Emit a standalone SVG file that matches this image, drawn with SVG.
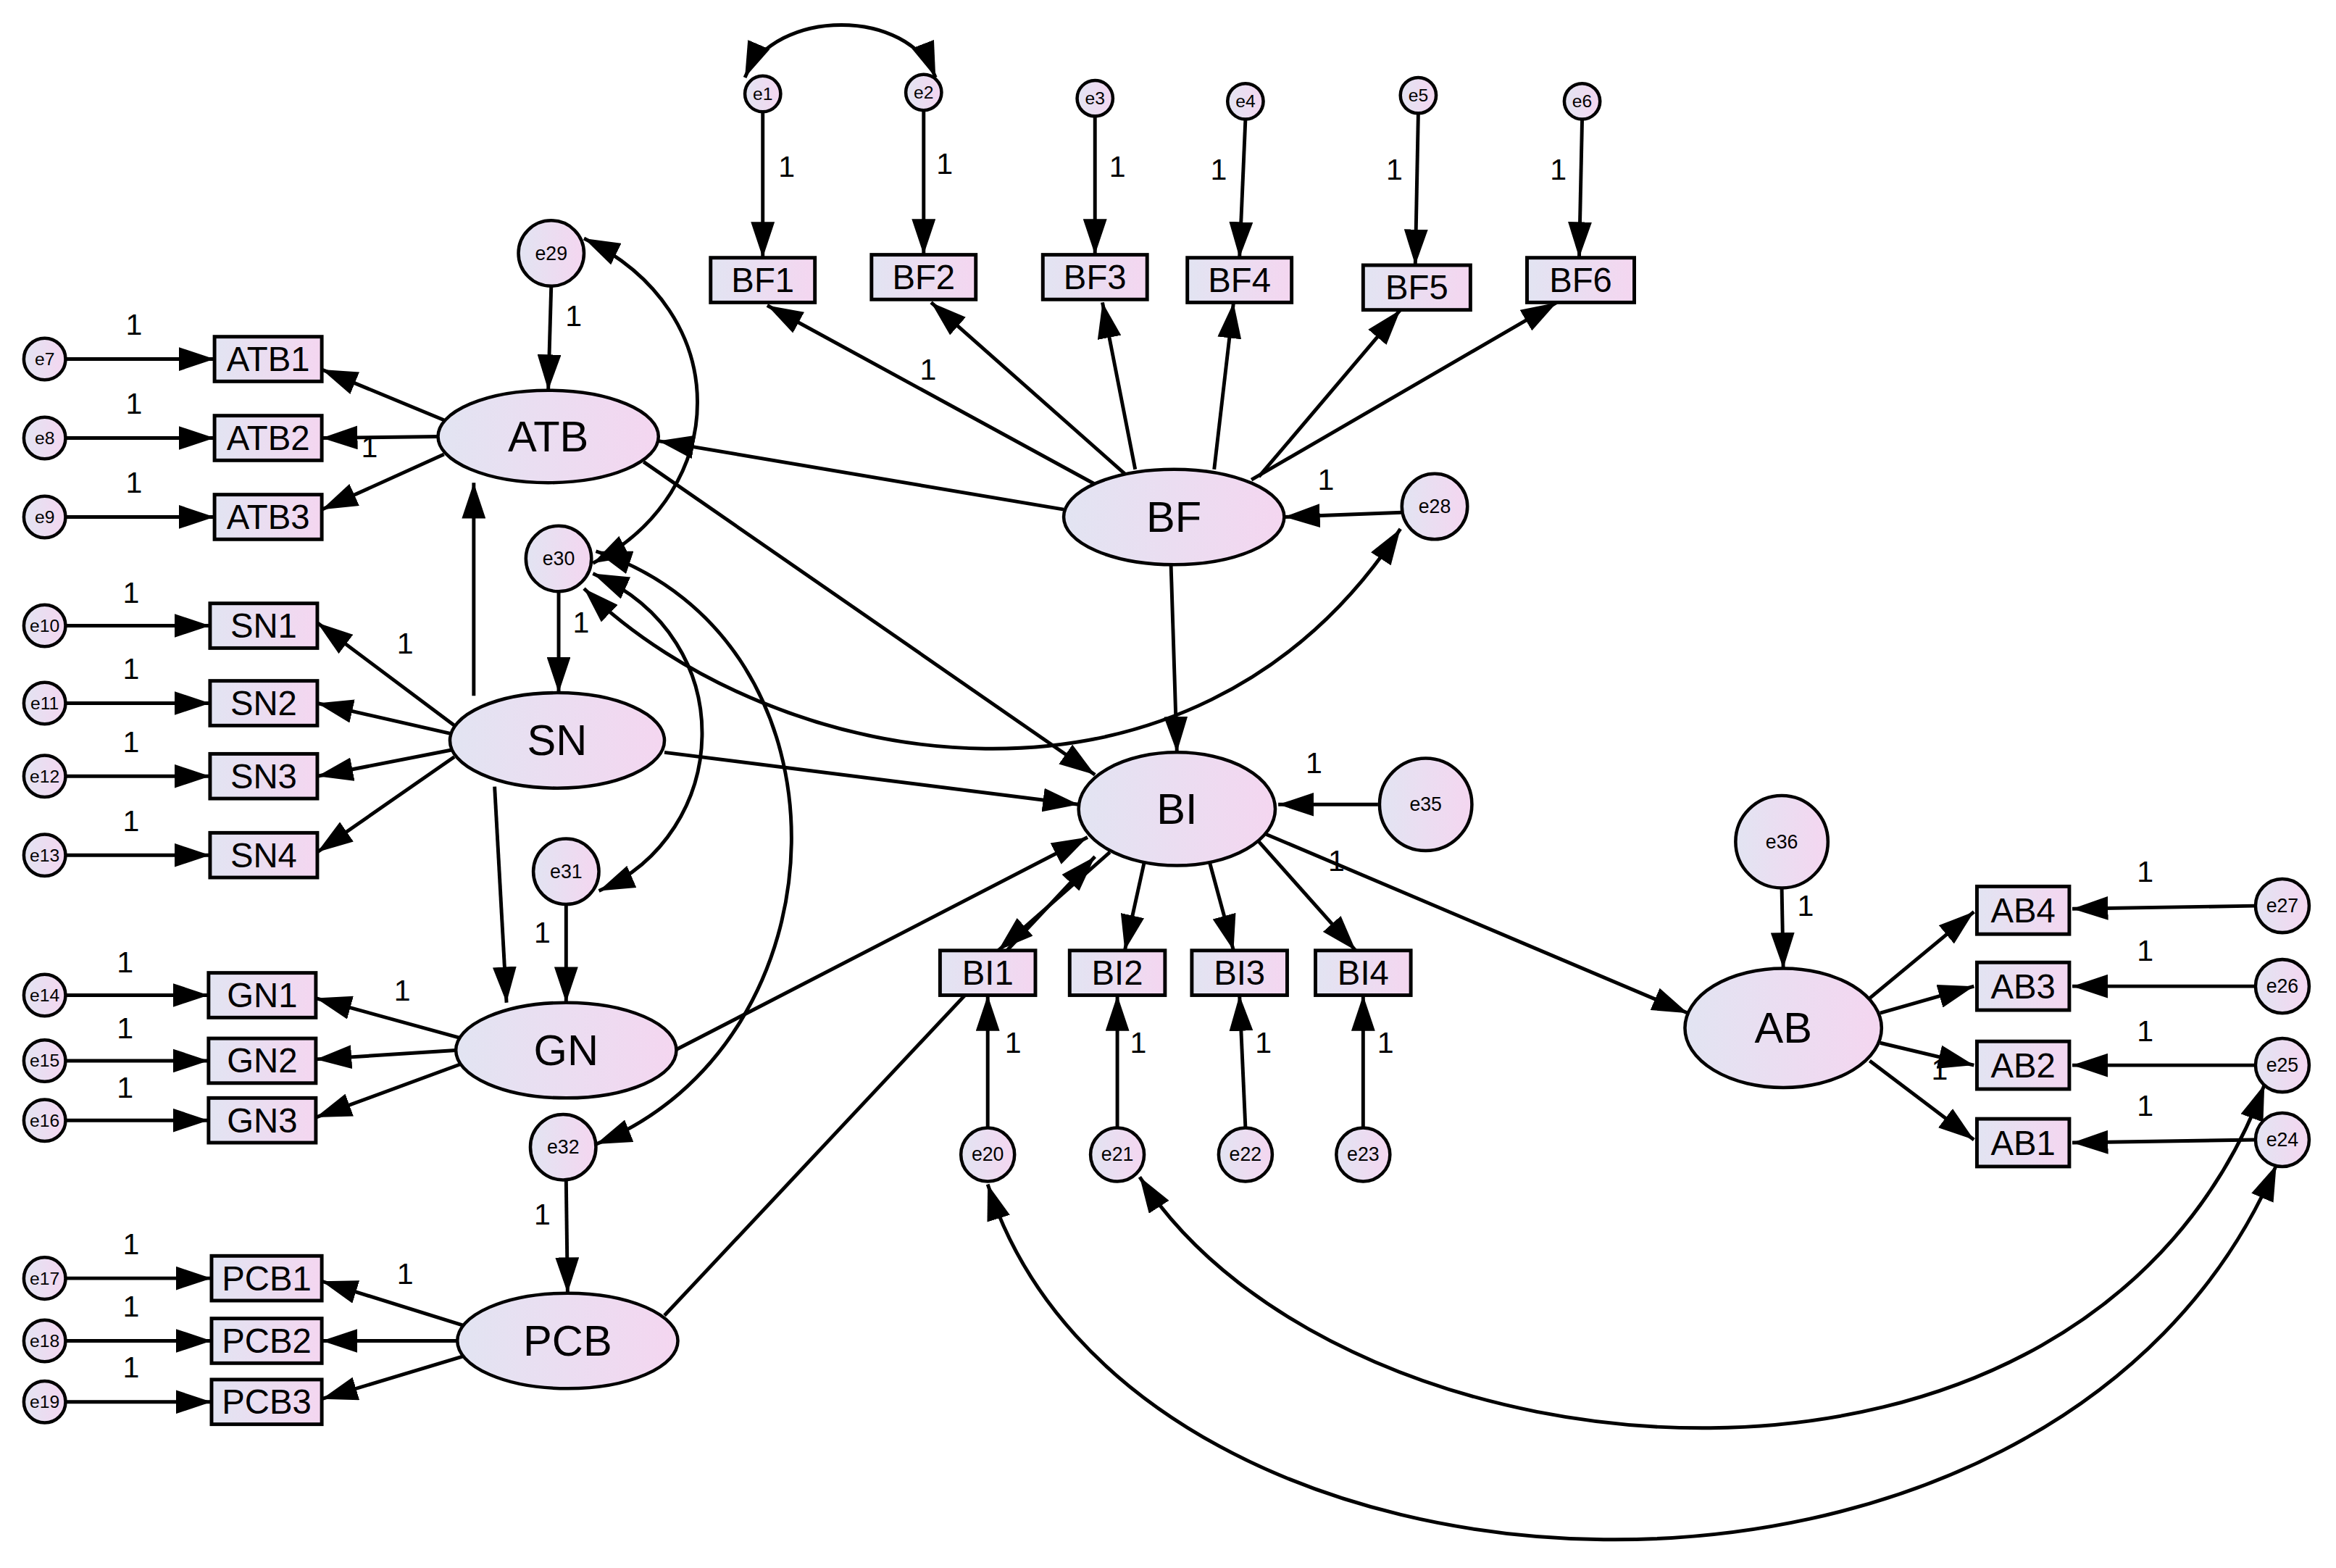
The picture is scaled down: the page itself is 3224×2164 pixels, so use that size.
<svg xmlns="http://www.w3.org/2000/svg" width="3224" height="2164" viewBox="0 0 3224 2164">
<style>
.c{stroke:#000;stroke-width:2.2;fill:url(#g)}
.b{stroke:#000;stroke-width:2.4;fill:url(#g)}
.t{font-family:"Liberation Sans",Arial,sans-serif;text-anchor:middle;dominant-baseline:central;fill:#000}
.s{font-size:12px}.m{font-size:13px}.bx{font-size:23px}.lt{font-size:29px}.n{font-size:20px}
#connectors line{stroke:#000;stroke-width:2.4;marker-end:url(#ah)}
.d{stroke:#000;stroke-width:2.4;fill:none;marker-end:url(#ah);marker-start:url(#ah)}
</style>
<defs>
<linearGradient id="g" x1="0" x2="1" y1="0" y2="0"><stop offset="0" stop-color="#e2e4f2"/><stop offset="1" stop-color="#f4d6f0"/></linearGradient>
<marker id="ah" viewBox="0 0 24 16" refX="24" refY="8" markerWidth="24" markerHeight="16" markerUnits="userSpaceOnUse" orient="auto-start-reverse"><path d="M0,0L24,8L0,16z" fill="#000"/></marker>
</defs>
<rect width="3224" height="2164" fill="#fff"/>
<g transform="scale(2.0561)">
<g id="connectors">
<line x1="512" y1="75" x2="512" y2="173"/><line x1="620" y1="74" x2="620" y2="171"/><line x1="735" y1="78" x2="735" y2="171"/><line x1="836" y1="80" x2="832" y2="173"/><line x1="952" y1="76" x2="950" y2="178"/><line x1="1062" y1="80" x2="1060" y2="173"/>
<line x1="735" y1="325" x2="515" y2="205"/><line x1="755" y1="318" x2="625" y2="203"/><line x1="762" y1="315" x2="740" y2="203"/><line x1="815" y1="315" x2="828" y2="203"/><line x1="845" y1="320" x2="940" y2="208"/><line x1="840" y1="322" x2="1045" y2="203"/>
<line x1="714" y1="342" x2="442" y2="296"/><line x1="786" y1="379" x2="790" y2="505"/><line x1="941" y1="344" x2="862" y2="347"/><line x1="432" y1="310" x2="735" y2="520"/>
<line x1="298" y1="282" x2="216" y2="248"/><line x1="294" y1="293" x2="216" y2="294"/><line x1="298" y1="305" x2="216" y2="342"/><line x1="370" y1="192" x2="368" y2="262"/>
<line x1="44" y1="241" x2="144" y2="241"/><line x1="44" y1="294" x2="144" y2="294"/><line x1="44" y1="347" x2="144" y2="347"/>
<line x1="318" y1="467" x2="318" y2="324"/><line x1="332" y1="528" x2="340" y2="673"/><line x1="375" y1="397" x2="375" y2="465"/>
<line x1="305" y1="487" x2="213" y2="418"/><line x1="305" y1="493" x2="213" y2="472"/><line x1="305" y1="503" x2="213" y2="521"/><line x1="305" y1="508" x2="213" y2="572"/>
<line x1="44" y1="420" x2="141" y2="420"/><line x1="44" y1="472" x2="141" y2="472"/><line x1="44" y1="521" x2="141" y2="521"/><line x1="44" y1="574" x2="141" y2="574"/>
<line x1="446" y1="505" x2="724" y2="540"/><line x1="310" y1="697" x2="212" y2="670"/><line x1="306" y1="705" x2="212" y2="711"/><line x1="310" y1="714" x2="212" y2="750"/><line x1="380" y1="607" x2="380" y2="673"/><line x1="453" y1="705" x2="730" y2="562"/>
<line x1="44" y1="668" x2="140" y2="668"/><line x1="44" y1="712" x2="140" y2="712"/><line x1="44" y1="752" x2="140" y2="752"/>
<line x1="380" y1="792" x2="381" y2="868"/><line x1="312" y1="890" x2="216" y2="860"/><line x1="307" y1="900" x2="216" y2="900"/><line x1="312" y1="910" x2="216" y2="939"/><line x1="446" y1="883" x2="735" y2="575"/>
<line x1="44" y1="858" x2="142" y2="858"/><line x1="44" y1="900" x2="142" y2="900"/><line x1="44" y1="941" x2="142" y2="941"/>
<line x1="745" y1="572" x2="670" y2="638"/><line x1="768" y1="579" x2="755" y2="638"/><line x1="812" y1="579" x2="828" y2="638"/><line x1="845" y1="565" x2="910" y2="638"/><line x1="925" y1="540" x2="858" y2="540"/><line x1="850" y1="560" x2="1133" y2="680"/>
<line x1="663" y1="757" x2="663" y2="668"/><line x1="750" y1="757" x2="750" y2="668"/><line x1="836" y1="757" x2="832" y2="668"/><line x1="915" y1="757" x2="915" y2="668"/><line x1="1196" y1="596" x2="1197" y2="650"/>
<line x1="1255" y1="670" x2="1325" y2="612"/><line x1="1262" y1="680" x2="1325" y2="662"/><line x1="1262" y1="700" x2="1325" y2="715"/><line x1="1255" y1="712" x2="1325" y2="765"/>
<line x1="1514" y1="608" x2="1391" y2="610"/><line x1="1514" y1="662" x2="1391" y2="662"/><line x1="1514" y1="715" x2="1391" y2="715"/><line x1="1514" y1="765" x2="1391" y2="767"/>
<path class="d" d="M500,52C520,5 610,5 628,52"/>
<path class="d" d="M392,160C495,210 490,330 398,378"/>
<path class="d" d="M398,385C500,430 490,560 402,598"/>
<path class="d" d="M400,370C580,430 570,700 400,768"/>
<path class="d" d="M392,395C520,520 800,570 940,355"/>
<path class="d" d="M663,795C760,1100 1380,1130 1528,782"/>
<path class="d" d="M765,790C900,1000 1400,1050 1520,728"/>
<g class="t n">
<text x="528" y="112">1</text><text x="634" y="110">1</text><text x="750" y="112">1</text><text x="818" y="114">1</text><text x="936" y="114">1</text><text x="1046" y="114">1</text><text x="623" y="248">1</text>
<text x="890" y="322">1</text><text x="385" y="212">1</text><text x="90" y="218">1</text><text x="90" y="271">1</text><text x="90" y="324">1</text><text x="248" y="300">1</text>
<text x="390" y="418">1</text><text x="272" y="432">1</text><text x="88" y="398">1</text><text x="88" y="449">1</text><text x="88" y="498">1</text><text x="88" y="551">1</text>
<text x="270" y="665">1</text><text x="364" y="626">1</text><text x="84" y="646">1</text><text x="84" y="690">1</text><text x="84" y="730">1</text>
<text x="364" y="815">1</text><text x="272" y="855">1</text><text x="88" y="835">1</text><text x="88" y="877">1</text><text x="88" y="918">1</text>
<text x="897" y="578">1</text><text x="882" y="512">1</text><text x="680" y="700">1</text><text x="764" y="700">1</text><text x="848" y="700">1</text><text x="930" y="700">1</text>
<text x="1212" y="608">1</text><text x="1440" y="585">1</text><text x="1440" y="638">1</text><text x="1440" y="692">1</text><text x="1440" y="742">1</text><text x="1302" y="718">1</text>
</g>
</g>
<g id="e1"><circle class="c" cx="512" cy="63" r="12"/><text class="t s" x="512" y="63">e1</text></g>
<g id="e2"><circle class="c" cx="620" cy="62" r="12"/><text class="t s" x="620" y="62">e2</text></g>
<g id="e3"><circle class="c" cx="735" cy="66" r="12"/><text class="t s" x="735" y="66">e3</text></g>
<g id="e4"><circle class="c" cx="836" cy="68" r="12"/><text class="t s" x="836" y="68">e4</text></g>
<g id="e5"><circle class="c" cx="952" cy="64" r="12"/><text class="t s" x="952" y="64">e5</text></g>
<g id="e6"><circle class="c" cx="1062" cy="68" r="12"/><text class="t s" x="1062" y="68">e6</text></g>
<g id="e7"><circle class="c" cx="30" cy="241" r="14"/><text class="t s" x="30" y="241">e7</text></g>
<g id="e8"><circle class="c" cx="30" cy="294" r="14"/><text class="t s" x="30" y="294">e8</text></g>
<g id="e9"><circle class="c" cx="30" cy="347" r="14"/><text class="t s" x="30" y="347">e9</text></g>
<g id="e10"><circle class="c" cx="30" cy="420" r="14"/><text class="t s" x="30" y="420">e10</text></g>
<g id="e11"><circle class="c" cx="30" cy="472" r="14"/><text class="t s" x="30" y="472">e11</text></g>
<g id="e12"><circle class="c" cx="30" cy="521" r="14"/><text class="t s" x="30" y="521">e12</text></g>
<g id="e13"><circle class="c" cx="30" cy="574" r="14"/><text class="t s" x="30" y="574">e13</text></g>
<g id="e14"><circle class="c" cx="30" cy="668" r="14"/><text class="t s" x="30" y="668">e14</text></g>
<g id="e15"><circle class="c" cx="30" cy="712" r="14"/><text class="t s" x="30" y="712">e15</text></g>
<g id="e16"><circle class="c" cx="30" cy="752" r="14"/><text class="t s" x="30" y="752">e16</text></g>
<g id="e17"><circle class="c" cx="30" cy="858" r="14"/><text class="t s" x="30" y="858">e17</text></g>
<g id="e18"><circle class="c" cx="30" cy="900" r="14"/><text class="t s" x="30" y="900">e18</text></g>
<g id="e19"><circle class="c" cx="30" cy="941" r="14"/><text class="t s" x="30" y="941">e19</text></g>
<g id="e20"><circle class="c" cx="663" cy="775" r="18"/><text class="t m" x="663" y="775">e20</text></g>
<g id="e21"><circle class="c" cx="750" cy="775" r="18"/><text class="t m" x="750" y="775">e21</text></g>
<g id="e22"><circle class="c" cx="836" cy="775" r="18"/><text class="t m" x="836" y="775">e22</text></g>
<g id="e23"><circle class="c" cx="915" cy="775" r="18"/><text class="t m" x="915" y="775">e23</text></g>
<g id="e24"><circle class="c" cx="1532" cy="765" r="18"/><text class="t m" x="1532" y="765">e24</text></g>
<g id="e25"><circle class="c" cx="1532" cy="715" r="18"/><text class="t m" x="1532" y="715">e25</text></g>
<g id="e26"><circle class="c" cx="1532" cy="662" r="18"/><text class="t m" x="1532" y="662">e26</text></g>
<g id="e27"><circle class="c" cx="1532" cy="608" r="18"/><text class="t m" x="1532" y="608">e27</text></g>
<g id="e28"><circle class="c" cx="963" cy="340" r="22"/><text class="t m" x="963" y="340">e28</text></g>
<g id="e29"><circle class="c" cx="370" cy="170" r="22"/><text class="t m" x="370" y="170">e29</text></g>
<g id="e30"><circle class="c" cx="375" cy="375" r="22"/><text class="t m" x="375" y="375">e30</text></g>
<g id="e31"><circle class="c" cx="380" cy="585" r="22"/><text class="t m" x="380" y="585">e31</text></g>
<g id="e32"><circle class="c" cx="378" cy="770" r="22"/><text class="t m" x="378" y="770">e32</text></g>
<g id="e35"><circle class="c" cx="957" cy="540" r="31"/><text class="t m" x="957" y="540">e35</text></g>
<g id="e36"><circle class="c" cx="1196" cy="565" r="31"/><text class="t m" x="1196" y="565">e36</text></g>
<g id="BF1"><rect class="b" x="477" y="173" width="70" height="30"/><text class="t bx" x="512" y="188">BF1</text></g>
<g id="BF2"><rect class="b" x="585" y="171" width="70" height="30"/><text class="t bx" x="620" y="186">BF2</text></g>
<g id="BF3"><rect class="b" x="700" y="171" width="70" height="30"/><text class="t bx" x="735" y="186">BF3</text></g>
<g id="BF4"><rect class="b" x="797" y="173" width="70" height="30"/><text class="t bx" x="832" y="188">BF4</text></g>
<g id="BF5"><rect class="b" x="915" y="178" width="72" height="30"/><text class="t bx" x="951" y="193">BF5</text></g>
<g id="BF6"><rect class="b" x="1025" y="173" width="72" height="30"/><text class="t bx" x="1061" y="188">BF6</text></g>
<g id="ATB1"><rect class="b" x="144" y="226" width="72" height="30"/><text class="t bx" x="180" y="241">ATB1</text></g>
<g id="ATB2"><rect class="b" x="144" y="279" width="72" height="30"/><text class="t bx" x="180" y="294">ATB2</text></g>
<g id="ATB3"><rect class="b" x="144" y="332" width="72" height="30"/><text class="t bx" x="180" y="347">ATB3</text></g>
<g id="SN1"><rect class="b" x="141" y="405" width="72" height="30"/><text class="t bx" x="177" y="420">SN1</text></g>
<g id="SN2"><rect class="b" x="141" y="457" width="72" height="30"/><text class="t bx" x="177" y="472">SN2</text></g>
<g id="SN3"><rect class="b" x="141" y="506" width="72" height="30"/><text class="t bx" x="177" y="521">SN3</text></g>
<g id="SN4"><rect class="b" x="141" y="559" width="72" height="30"/><text class="t bx" x="177" y="574">SN4</text></g>
<g id="GN1"><rect class="b" x="140" y="653" width="72" height="30"/><text class="t bx" x="176" y="668">GN1</text></g>
<g id="GN2"><rect class="b" x="140" y="697" width="72" height="30"/><text class="t bx" x="176" y="712">GN2</text></g>
<g id="GN3"><rect class="b" x="140" y="737" width="72" height="30"/><text class="t bx" x="176" y="752">GN3</text></g>
<g id="PCB1"><rect class="b" x="142" y="843" width="74" height="30"/><text class="t bx" x="179" y="858">PCB1</text></g>
<g id="PCB2"><rect class="b" x="142" y="885" width="74" height="30"/><text class="t bx" x="179" y="900">PCB2</text></g>
<g id="PCB3"><rect class="b" x="142" y="926" width="74" height="30"/><text class="t bx" x="179" y="941">PCB3</text></g>
<g id="BI1"><rect class="b" x="631" y="638" width="64" height="30"/><text class="t bx" x="663" y="653">BI1</text></g>
<g id="BI2"><rect class="b" x="718" y="638" width="64" height="30"/><text class="t bx" x="750" y="653">BI2</text></g>
<g id="BI3"><rect class="b" x="800" y="638" width="64" height="30"/><text class="t bx" x="832" y="653">BI3</text></g>
<g id="BI4"><rect class="b" x="883" y="638" width="64" height="30"/><text class="t bx" x="915" y="653">BI4</text></g>
<g id="AB4"><rect class="b" x="1327" y="595" width="62" height="32"/><text class="t bx" x="1358" y="611">AB4</text></g>
<g id="AB3"><rect class="b" x="1327" y="646" width="62" height="32"/><text class="t bx" x="1358" y="662">AB3</text></g>
<g id="AB2"><rect class="b" x="1327" y="699" width="62" height="32"/><text class="t bx" x="1358" y="715">AB2</text></g>
<g id="AB1"><rect class="b" x="1327" y="751" width="62" height="32"/><text class="t bx" x="1358" y="767">AB1</text></g>
<g id="ATB"><ellipse class="c" cx="368" cy="293" rx="74" ry="31"/><text class="t lt" x="368" y="293">ATB</text></g>
<g id="BF"><ellipse class="c" cx="788" cy="347" rx="74" ry="32"/><text class="t lt" x="788" y="347">BF</text></g>
<g id="SN"><ellipse class="c" cx="374" cy="497" rx="72" ry="32"/><text class="t lt" x="374" y="497">SN</text></g>
<g id="BI"><ellipse class="c" cx="790" cy="543" rx="66" ry="38"/><text class="t lt" x="790" y="543">BI</text></g>
<g id="GN"><ellipse class="c" cx="380" cy="705" rx="74" ry="32"/><text class="t lt" x="380" y="705">GN</text></g>
<g id="PCB"><ellipse class="c" cx="381" cy="900" rx="74" ry="32"/><text class="t lt" x="381" y="900">PCB</text></g>
<g id="AB"><ellipse class="c" cx="1197" cy="690" rx="66" ry="40"/><text class="t lt" x="1197" y="690">AB</text></g>
</g>
</svg>
